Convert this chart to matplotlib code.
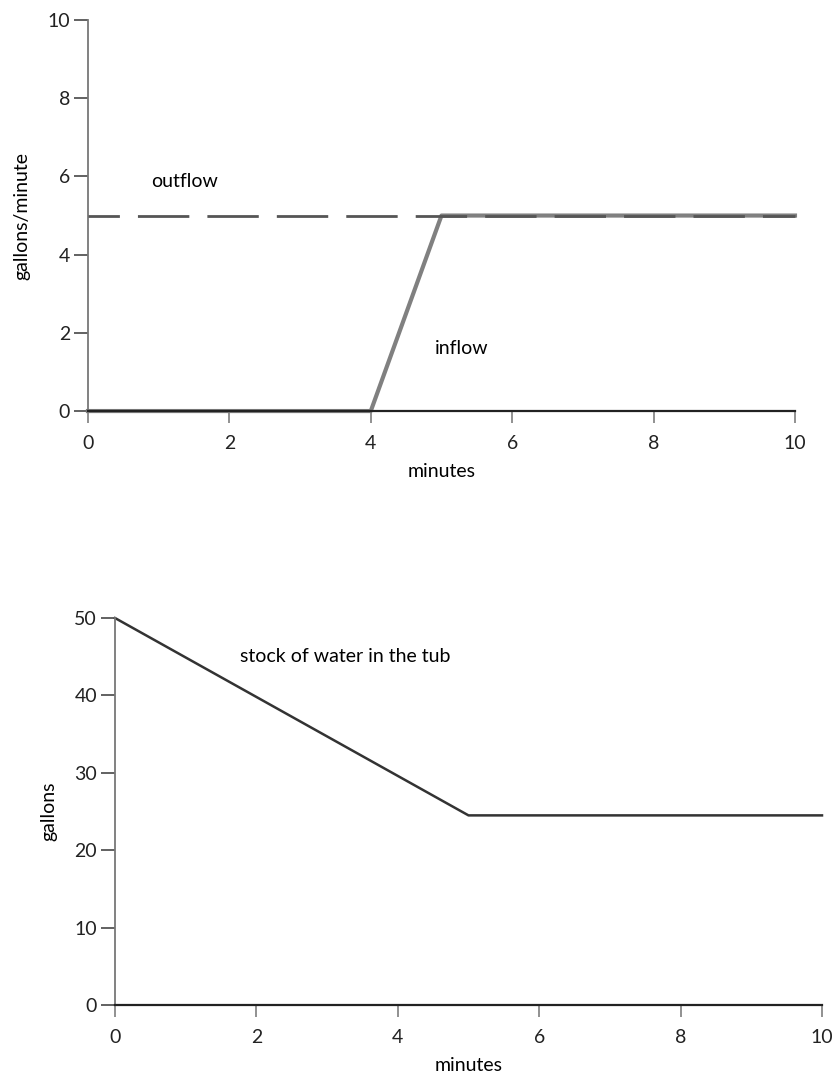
import matplotlib
matplotlib.use("Agg")
import matplotlib.pyplot as plt

plt.rcParams['font.family'] = ['Lato', 'DejaVu Sans']

# flows (gallons/minute)
minutes = [0, 4, 5, 10]
inflow = [0, 0, 5, 5]
outflow_t = [0, 10]
outflow = [5, 5]

# stock (gallons)
stock_t = [0, 5, 10]
stock = [50, 24.5, 24.5]

xticks = [0, 2, 4, 6, 8, 10]
fs = 14

fig = plt.figure(figsize=(8.34, 10.78), dpi=100)
ax1 = fig.add_axes([0.1055, 0.6187, 0.8477, 0.3627])
ax2 = fig.add_axes([0.1379, 0.0677, 0.8477, 0.359])

for ax in (ax1, ax2):
    for s in ('top', 'right'):
        ax.spines[s].set_visible(False)
    ax.spines['left'].set_color('#777777')
    ax.spines['left'].set_linewidth(1.3)
    ax.spines['bottom'].set_color('#222222')
    ax.spines['bottom'].set_linewidth(1.6)
    ax.spines['bottom'].set_zorder(5)
    ax.tick_params(axis='y', length=10, width=1.3, color='#555555', pad=3,
                   labelsize=fs, labelcolor='#222222')
    ax.tick_params(axis='x', length=8.5, width=1.3, color='#888888', pad=9,
                   labelsize=fs, labelcolor='#222222')
    ax.set_xlim(0, 10)
    ax.set_xticks(xticks)

# top chart
ax1.plot(outflow_t, outflow, color='#555555', lw=2, linestyle=(7.2, (18.5, 6.5)),
         clip_on=False, zorder=3)
ax1.plot(minutes, inflow, color='#808080', lw=3, clip_on=False, zorder=2)
ax1.set_ylim(0, 10)
ax1.set_yticks([0, 2, 4, 6, 8, 10])
ax1.set_xlabel('minutes', fontsize=fs, labelpad=8)
ax1.set_ylabel('gallons/minute', fontsize=fs, labelpad=12)
ax1.text(1.37, 5.86, 'outflow', fontsize=fs, ha='center', va='center')
ax1.text(5.29, 1.61, 'inflow', fontsize=fs, ha='center', va='center')

# bottom chart
ax2.plot(stock_t, stock, color='#333333', lw=1.8, clip_on=False)
ax2.set_ylim(0, 50)
ax2.set_yticks([0, 10, 20, 30, 40, 50])
ax2.set_xlabel('minutes', fontsize=fs, labelpad=8)
ax2.set_ylabel('gallons', fontsize=fs, labelpad=12)
ax2.text(3.25, 45, 'stock of water in the tub', fontsize=fs, ha='center', va='center')

fig.savefig('out.png', dpi=100, facecolor='white')
